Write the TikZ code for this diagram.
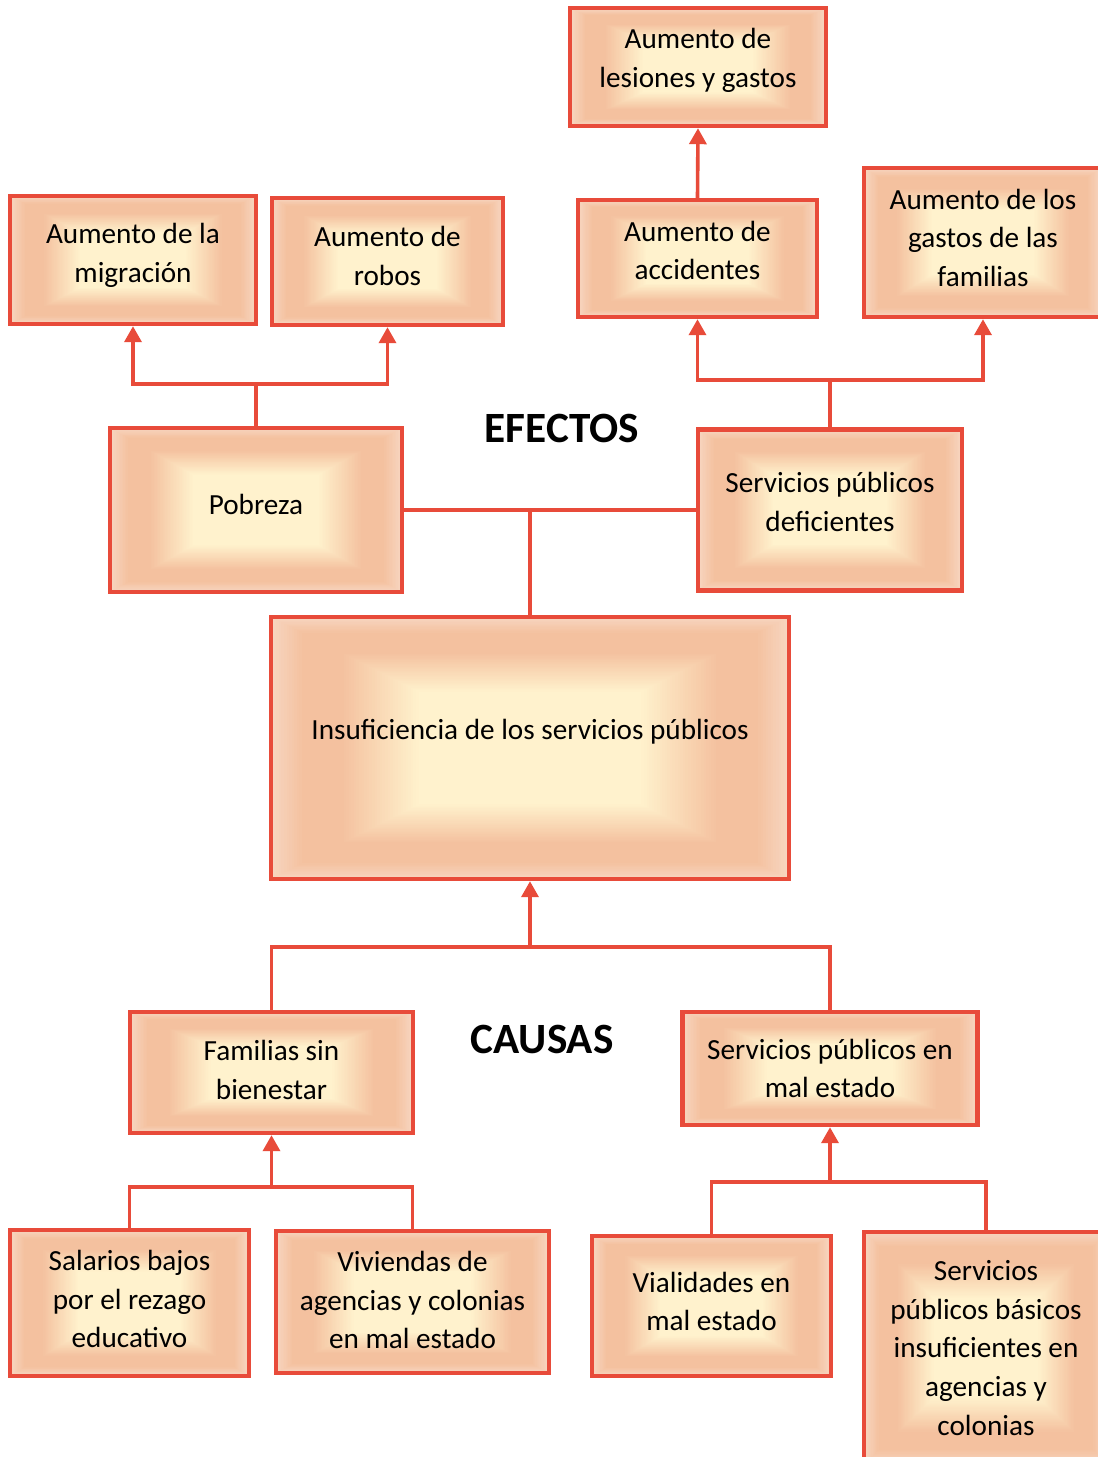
\documentclass[tikz,border=0pt]{standalone}
\usepackage{fontspec}
\setmainfont{Carlito}
\usetikzlibrary{arrows.meta,calc}
\definecolor{boxred}{HTML}{E84B3A}
\definecolor{peachedge}{HTML}{F7D5C0}
\definecolor{peachband}{HTML}{F4C19F}
\definecolor{creamcore}{HTML}{FFF2CD}
\tikzset{
  box/.style={draw=boxred, line width=2.2pt, inner sep=2pt, align=center,
    font=\fontsize{14.6}{19.3}\selectfont,
    % degradado rectangular desde el centro
    path picture={
      \foreach \i in {0,...,58}{
        \pgfmathsetmacro\sc{1-\i/100}
        \pgfmathsetmacro\pa{min(100,\i*100/12)}
        \pgfmathsetmacro\pb{max(0,min(100,(\i-27)*100/30))}
        \fill[creamcore!\pb!peachband!\pa!peachedge]
          ($(path picture bounding box.center)!\sc!(path picture bounding box.north west)$) rectangle
          ($(path picture bounding box.center)!\sc!(path picture bounding box.south east)$);
      }
    }},
  lift/.style={execute at end node={\rule[-#1]{0pt}{#1}}},
  link/.style={draw=boxred, line width=1.8pt},
  arr/.style={link, -{Triangle[width=8.5pt,length=8pt]}},
  heading/.style={font=\fontsize{21.6}{24}\selectfont\bfseries}
}
\begin{document}
\begin{tikzpicture}[x=0.5pt, y=-0.5pt]
    \useasboundingbox (0,0) rectangle (1098,1457);

    % Efectos
    \node[box, lift=9.4pt, minimum width=128pt, minimum height=59pt] (lesiones) at (698,67) {Aumento de\\lesiones y gastos};
    \node[box, lift=8pt, minimum width=119.5pt, minimum height=58.5pt] (accidentes) at (697.5,258.5) {Aumento de\\accidentes};
    \node[box, lift=5pt, minimum width=119pt, minimum height=74.5pt] (gastos) at (983,242.5) {Aumento de los\\gastos de las\\familias};
    \node[box, lift=6.9pt, minimum width=123pt, minimum height=64pt] (migracion) at (133,260) {Aumento de la\\migración};
    \node[box, lift=5.5pt, minimum width=115.5pt, minimum height=63.5pt] (robos) at (387.5,261.5) {Aumento de\\robos};
    \node[box, lift=6pt, minimum width=146pt, minimum height=82pt] (pobreza) at (256,510) {Pobreza};
    \node[box, lift=8pt, minimum width=132pt, minimum height=80.5pt] (deficientes) at (830,510) {Servicios públicos\\deficientes};
    \node[heading] (efectos) at (562,428) {EFECTOS};

    % Problema central
    \node[box, lift=18.9pt, minimum width=259pt, minimum height=131pt] (insuficiencia) at (530,748) {Insuficiencia de los servicios públicos};

    % Causas
    \node[heading] (causas) at (542,1039) {CAUSAS};
    \node[box, lift=2.5pt, minimum width=141.5pt, minimum height=60.5pt] (familias) at (271.5,1072.5) {Familias sin\\bienestar};
    \node[box, minimum width=147.5pt, minimum height=56.5pt] (malestado) at (830,1068.5) {Servicios públicos en\\mal estado};
    \node[box, lift=4pt, minimum width=119.5pt, minimum height=73pt] (salarios) at (129.5,1303) {Salarios bajos\\por el rezago\\educativo};
    \node[box, lift=2pt, minimum width=136.5pt, minimum height=71pt] (viviendas) at (412.5,1302) {Viviendas de\\agencias y colonias\\en mal estado};
    \node[box, lift=4.5pt, minimum width=119.5pt, minimum height=70pt] (vialidades) at (711.5,1306) {Vialidades en\\mal estado};
    \node[box, minimum width=122pt, minimum height=116pt] (basicos) at (986,1348) {Servicios\\públicos básicos\\insuficientes en\\agencias y\\colonias};

    % Alturas de las barras
    \coordinate (bdef) at (0,380);
    \coordinate (bpob) at (0,384);
    \coordinate (bcau) at (0,947);
    \coordinate (bfam) at (0,1187);
    \coordinate (bmal) at (0,1182);

    % Conectores de efectos
    \draw[arr] (accidentes.north) -- (lesiones.south);
    \draw[arr] (deficientes.north) |- (accidentes.south |- bdef) -- (accidentes.south);
    \draw[arr] (deficientes.north) |- (gastos.south |- bdef) -- (gastos.south);
    \draw[arr] (pobreza.north) |- (migracion.south |- bpob) -- (migracion.south);
    \draw[arr] (pobreza.north) |- (robos.south |- bpob) -- (robos.south);
    \draw[link] (pobreza.east) -- (deficientes.west);
    \draw[link] (insuficiencia.north) -- (insuficiencia.north |- pobreza.east);

    % Conectores de causas
    \draw[link] (familias.north) |- (malestado.north |- bcau) -- (malestado.north);
    \draw[arr] (insuficiencia.south |- bcau) -- (insuficiencia.south);
    \draw[link] (salarios.north) |- (viviendas.north |- bfam) -- (viviendas.north);
    \draw[arr] (familias.south |- bfam) -- (familias.south);
    \draw[link] (vialidades.north) |- (basicos.north |- bmal) -- (basicos.north);
    \draw[arr] (malestado.south |- bmal) -- (malestado.south);

\end{tikzpicture}
\end{document}
